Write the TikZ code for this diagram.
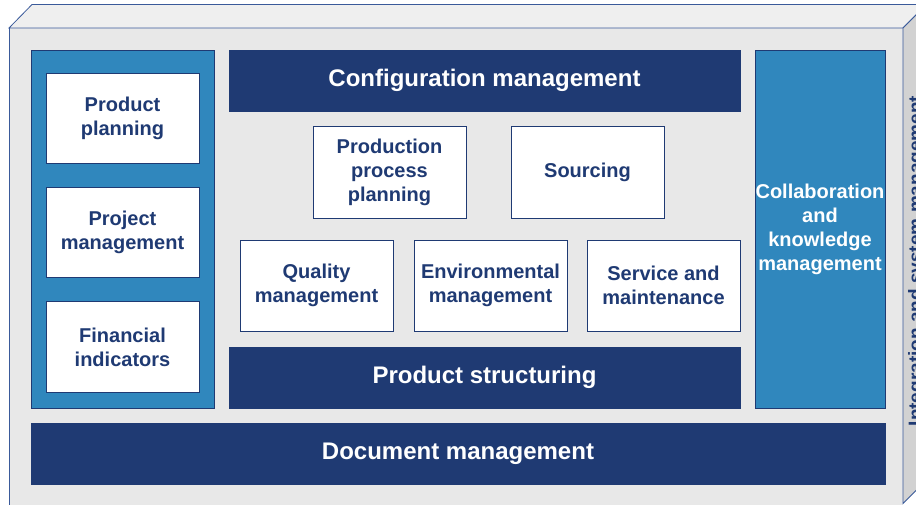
\documentclass[tikz,border=0pt]{standalone}
\usepackage{fontspec}
\setmainfont{Liberation Sans}
\definecolor{navy}{HTML}{1F3A73}
\definecolor{midblue}{HTML}{3087BD}
\definecolor{frontgray}{HTML}{E8E8E8}
\definecolor{topgray}{HTML}{EFEFEF}
\definecolor{sidegray}{HTML}{D2D2D2}
\definecolor{edgeblue}{HTML}{3A5A9A}
\begin{document}
\begin{tikzpicture}[x=1pt, y=-1pt,
	whitebox/.style={shape=rectangle, draw=navy, fill=white, line width=0.8pt, inner sep=0pt,
		minimum width=153pt, align=center, text=navy, font=\bfseries\fontsize{20}{24}\selectfont},
	darkbar/.style={shape=rectangle, draw=navy, fill=navy, inner sep=0pt, minimum height=61pt,
		text=white, font=\bfseries\fontsize{24}{28}\selectfont},
	bluepanel/.style={shape=rectangle, draw=navy, fill=midblue, line width=0.8pt, inner sep=0pt,
		minimum height=358pt, align=center, text=white, font=\bfseries\fontsize{20}{24}\selectfont}]
	\useasboundingbox (0,0) rectangle (916,504);

	% the box
	\fill[frontgray] (9,28) rectangle (903,510);
	\filldraw[fill=topgray, draw=edgeblue, line width=0.8pt] (9,28) -- (32,4.5) -- (926.5,4.5) -- (903,28) -- cycle;
	\filldraw[fill=sidegray, draw=edgeblue, line width=0.8pt] (903,28) -- (926.5,4.5) -- (926.5,480) -- (903,503.5) -- cycle;
	\draw[edgeblue, line width=0.8pt] (9,28) -- (9,510);

	% left column
	\node[bluepanel, minimum width=183pt]             (planning) at (122.5,229)  {};
	\node[whitebox, minimum height=90pt]              (prodplan) at (122.5,118)  {Product\\planning};
	\node[whitebox, minimum height=90pt]              (projmgmt) at (122.5,232)  {Project\\management};
	\node[whitebox, minimum height=91pt]              (finind)   at (122.5,347)  {Financial\\indicators};

	% middle block
	\node[darkbar, minimum width=511pt]               (config)   at (484.5,80.5) {Configuration management};
	\node[whitebox, minimum height=92pt]              (process)  at (389.5,172)  {Production\\process\\planning};
	\node[whitebox, minimum height=92pt]              (sourcing) at (587.5,172)  {Sourcing};
	\node[whitebox, minimum height=91pt]              (quality)  at (316.5,285.5) {Quality\\management};
	\node[whitebox, minimum height=91pt]              (environ)  at (490.5,285.5) {Environmental\\management};
	\node[whitebox, minimum height=91pt]              (service)  at (663.5,285.5) {Service and\\maintenance};
	\node[darkbar, minimum width=511pt]               (struct)   at (484.5,377.5) {Product structuring};

	% right column and base
	\node[bluepanel, minimum width=130pt]             (collab)   at (820,229)    {Collaboration\\and\\knowledge\\management};
	\node[darkbar, minimum width=854pt]               (docmgmt)  at (458,453.5)  {Document management};

	% side face
	\node[rotate=90, anchor=north, inner sep=0pt, text=navy, font=\bfseries\fontsize{19}{22}\selectfont]
		(integr) at (908,261) {Integration and system management};
\end{tikzpicture}
\end{document}
